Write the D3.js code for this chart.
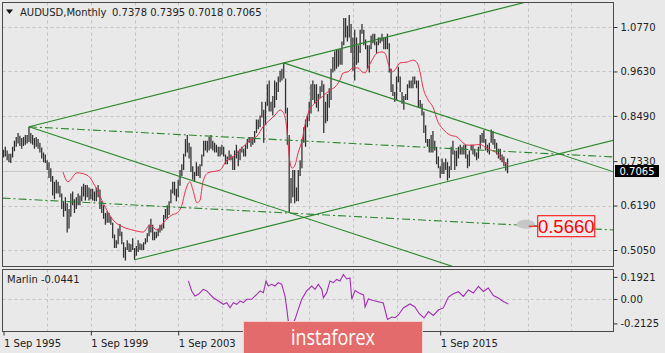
<!DOCTYPE html>
<html>
<head>
<meta charset="utf-8">
<script src="https://cdn.jsdelivr.net/npm/d3@7"></script>
<style>
  html, body { margin: 0; padding: 0; background: #e9e9e9; }
  svg { display: block; font-family: "DejaVu Sans", sans-serif; }
</style>
</head>
<body>
<svg id="chart"></svg>
<script>
// monthly bars, first bar = Sep 1995 (index 0)
const barHighs = [
  .762,.770,.760,.752,                                              // 1995 Sep-Dec
  .752,.770,.785,.795,.805,.798,.792,.795,.800,.800,.821,.805,      // 1996
  .800,.792,.795,.790,.780,.768,.755,.750,.735,.730,.715,.695,      // 1997
  .680,.685,.680,.670,.650,.630,.640,.625,.610,.650,.655,.635,      // 1998
  .640,.650,.645,.668,.675,.672,.672,.665,.662,.662,.655,.665,      // 1999
  .672,.660,.630,.620,.600,.605,.600,.590,.575,.545,.530,.560,      // 2000
  .572,.552,.525,.512,.530,.522,.520,.535,.510,.515,.530,.522,      // 2001
  .520,.525,.535,.548,.570,.585,.570,.552,.552,.560,.570,.570,      // 2002
  .595,.610,.620,.630,.660,.680,.680,.662,.685,.710,.725,.752,      // 2003
  .790,.800,.780,.770,.720,.705,.730,.720,.725,.750,.785,.785,      // 2004
  .785,.795,.800,.785,.780,.775,.770,.770,.775,.770,.750,.745,      // 2005
  .760,.750,.745,.760,.775,.760,.765,.770,.765,.775,.790,.795,      // 2006
  .795,.795,.810,.840,.840,.850,.885,.865,.885,.930,.940,.885,      // 2007
  .900,.940,.935,.950,.965,.970,.985,.945,.870,.800,.690,.710,      // 2008
  .710,.665,.710,.735,.790,.820,.840,.850,.885,.930,.940,.930,      // 2009
  .930,.905,.925,.940,.930,.885,.905,.920,.970,1.000,1.015,1.020,   // 2010
  1.020,1.020,1.040,1.100,1.100,1.080,1.108,1.085,1.050,1.070,1.050,1.030, // 2011
  1.070,1.085,1.070,1.045,1.030,1.030,1.055,1.060,1.060,1.040,1.050,1.050, // 2012
  1.060,1.050,1.050,1.060,1.035,.970,.930,.910,.950,.975,.950,.910, // 2013
  .900,.905,.930,.940,.940,.950,.950,.940,.940,.890,.880,.860,      // 2014
  .825,.790,.790,.800,.810,.785,.770,.745,.720,.740,.730,.740,      // 2015
  .730,.720,.770,.785,.760,.760,.770,.775,.770,.775,.775,.750,      // 2016
  .760,.775,.775,.765,.755,.770,.800,.805,.812,.790,.775,.780,      // 2017
  .814,.810,.790,.780,.765,.765,.750,.745,.730,.7395                // 2018 Jan-Oct
];
const barLows = [
  .742,.745,.735,.730,
  .728,.742,.758,.770,.778,.772,.765,.772,.775,.778,.782,.778,
  .775,.765,.770,.765,.755,.740,.730,.728,.710,.690,.680,.645,
  .635,.650,.650,.640,.610,.590,.605,.550,.560,.590,.620,.600,
  .610,.620,.620,.630,.642,.632,.640,.632,.635,.632,.630,.630,
  .640,.610,.600,.585,.570,.575,.575,.570,.535,.510,.510,.520,
  .540,.520,.485,.478,.505,.500,.500,.505,.480,.490,.500,.505,
  .505,.505,.520,.525,.540,.550,.530,.530,.535,.540,.550,.555,
  .560,.585,.585,.595,.625,.650,.645,.630,.640,.670,.695,.710,
  .745,.755,.740,.705,.685,.680,.695,.695,.690,.720,.745,.760,
  .755,.760,.765,.760,.755,.755,.745,.745,.750,.745,.725,.725,
  .735,.735,.710,.710,.740,.720,.735,.755,.745,.745,.765,.780,
  .770,.775,.780,.805,.815,.820,.845,.780,.825,.875,.860,.860,
  .850,.870,.890,.910,.935,.940,.945,.855,.775,.601,.625,.640,
  .625,.630,.630,.695,.715,.780,.770,.820,.835,.855,.890,.880,
  .870,.860,.895,.910,.805,.830,.835,.870,.890,.960,.965,.970,
  .975,.980,.980,1.030,1.050,1.040,1.050,1.010,.965,.940,.980,.985,
  1.010,1.060,1.030,1.020,.970,.960,1.020,1.035,1.030,1.010,1.030,1.035,
  1.040,1.020,1.020,1.020,.960,.910,.900,.885,.890,.935,.910,.880,
  .865,.890,.890,.920,.920,.920,.930,.920,.870,.870,.850,.805,
  .780,.770,.755,.755,.755,.760,.725,.715,.690,.700,.700,.710,
  .683,.690,.710,.750,.710,.720,.740,.750,.750,.750,.740,.715,
  .720,.760,.750,.745,.735,.740,.765,.780,.780,.760,.755,.750,
  .780,.775,.765,.750,.740,.735,.730,.720,.708,.7018
];

// red average, [month index, price]
const redLine = [
  [32.7,.705],[35.4,.680],[40.4,.703],[45.9,.697],[51.4,.659],[54.7,.626],[60.2,.582],
  [65.7,.564],[71.2,.556],[76.7,.551],[80.5,.569],[84.4,.556],[87.7,.574],[92.6,.595],
  [95.4,.600],[98.1,.621],[99.8,.654],[102.5,.680],[104.1,.659],[106.3,.626],[108,.633],
  [109.6,.680],[112.4,.703],[119,.710],[122.8,.736],[126.1,.744],[130,.762],[135.5,.787],
  [139.3,.797],[142.6,.821],[146.5,.839],[149.2,.851],[152,.864],[153.6,.859],[155.3,.831],
  [157.5,.728],[158.6,.715],[160.2,.723],[161.9,.754],[164.1,.787],[165.7,.826],[167.4,.856],
  [171.2,.882],[175.1,.898],[179.4,.915],[182.2,.923],[184.9,.941],[186.6,.959],[189.3,.962],
  [192.1,.972],[194.8,.972],[197,.962],[198.7,.959],[200.3,.972],[202.5,.992],[205.3,1.010],
  [208,1.013],[209.7,1.010],[211.3,.985],[213.5,.962],[215.2,.967],[217.9,.985],[221.8,.987],
  [225.1,.992],[227.3,.985],[228.9,.962],[230.5,.923],[233.3,.890],[236,.872],[238.8,.833],
  [241.5,.815],[245.4,.800],[249.2,.795],[252.5,.780],[254.7,.774],[258,.774],[261.9,.776],
  [264.6,.769],[267.4,.762],[270.1,.757],[272.9,.744],[275.6,.728],[277.3,.723]
];

// Marlin oscillator, [month index, value]
const marlin = [
  [101.6,.157],[103.4,.070],[105.2,.026],[107.1,.041],[109.8,.084],[111.7,.070],[113.5,.041],
  [115.3,.011],[118.1,-.017],[120.8,-.046],[122.7,-.032],[124.5,-.076],[126.3,-.032],[128.2,-.046],
  [130,-.017],[131.8,-.032],[133.7,-.003],[136.4,-.003],[139.2,.041],[141,.070],[142.8,.055],
  [144.3,.157],[145.5,.113],[147.4,.128],[149.2,.113],[151,.142],[152.9,.128],[154.7,.026],
  [155.7,-.090],[156.5,-.191],[158.4,-.235],[160.2,-.177],[162,-.090],[163.9,-.003],[166.6,.070],
  [169.4,.113],[171.2,.084],[173,.128],[174.9,.084],[175.8,.011],[177.6,.055],[179.4,.157],
  [181.3,.142],[183.1,.170],[184.9,.157],[186.8,.213],[188.6,.174],[190.4,.183],[191.4,.000],
  [193.2,.074],[195.4,.052],[197.9,.035],[198.7,-.070],[200.5,.000],[203.2,-.013],[208.7,-.035],
  [211,-.178],[213.4,-.157],[215.2,-.163],[217,-.139],[219.7,-.078],[223.4,-.043],[226.1,-.070],
  [228.4,-.126],[231.1,-.165],[233.5,-.110],[236.2,-.143],[239,-.096],[241.7,-.078],[244.5,.017],
  [247.2,.045],[250,.063],[252.7,.022],[255.5,.078],[258.2,.052],[261,.109],[263.7,.065],
  [266.4,.096],[269.2,.030],[271.9,.009],[274.7,-.022],[277.4,-.0441]
];

// drawn trend lines, each through two anchors [month index, price]
const trendLines = [
  [[14, .821], [154, .985]],
  [[14, .821], [157, .601]],
  [[154, .985], [335.5, .705]],
  [[72, .480], [335.5, .787]]
];
const levelLines = [
  [[14, .821], [335.5, .7436]],
  [[0, .638], [335.5, .5563]]
];
const markLevel = [287, .566];

const priceTicks = [1.0770, 0.9630, 0.8490, 0.7330, 0.6190, 0.5050];
const marlinTicks = [0.1921, 0.00, -0.2125];
const marlinTickLabels = ['0.1921', '0.00', '-0.2125'];
// 2007 and 2011 labels sit under the logo in the reference
const dateTicks = [0, 48, 96, 240];
const dateLabels = ['1 Sep 1995', '1 Sep 1999', '1 Sep 2003', '1 Sep 2015'];
const lastPrice = 0.7065;
const header = ['AUDUSD,Monthly', '0.7378 0.7395 0.7018 0.7065'];
const marlinLabel = 'Marlin -0.0441';

const width = 665;
const height = 353;
const pLeft = 2.5, pRight = 613.5, pTop = 2.5, pBottom = 266.5;
const subTop = 269.5, subBottom = 331.5;

const svg = d3.select('#chart').attr('width', width).attr('height', height);

const x = d3.scaleLinear().domain([0, 335.5]).range([3.5, 614]);
const y = d3.scaleLinear().domain([0.505, 1.077]).range([250, 27]);
const ySub = d3.scaleLinear().domain([-0.2125, 0.1921]).range([323.4, 276.9]);

const defs = svg.append('defs');
defs.append('clipPath').attr('id', 'clipMain').append('rect')
    .attr('x', pLeft).attr('y', pTop).attr('width', pRight - pLeft).attr('height', pBottom - pTop);
defs.append('clipPath').attr('id', 'clipSub').append('rect')
    .attr('x', pLeft).attr('y', subTop).attr('width', pRight - pLeft).attr('height', subBottom - subTop);

// grid
const grid = svg.append('g').attr('stroke', '#c4c4c4').attr('stroke-dasharray', '3,3');
grid.selectAll('.hg').data(priceTicks).enter().append('line')
    .attr('x1', pLeft).attr('x2', pRight)
    .attr('y1', d => Math.round(y(d)) + 0.5).attr('y2', d => Math.round(y(d)) + 0.5);
const vGrid = d3.range(24, 336, 24);
grid.selectAll('.vg').data(vGrid).enter().append('line')
    .attr('x1', d => Math.round(x(d)) + 0.5).attr('x2', d => Math.round(x(d)) + 0.5)
    .attr('y1', pTop).attr('y2', pBottom);
grid.selectAll('.vg2').data(vGrid).enter().append('line')
    .attr('x1', d => Math.round(x(d)) + 0.5).attr('x2', d => Math.round(x(d)) + 0.5)
    .attr('y1', subTop).attr('y2', subBottom);
grid.append('line')
    .attr('x1', pLeft).attr('x2', pRight)
    .attr('y1', Math.round(ySub(0)) + 0.5).attr('y2', Math.round(ySub(0)) + 0.5);

const main = svg.append('g').attr('clip-path', 'url(#clipMain)');

// bid line
main.append('line')
    .attr('x1', pLeft).attr('x2', pRight)
    .attr('y1', Math.round(y(lastPrice)) + 0.5).attr('y2', Math.round(y(lastPrice)) + 0.5)
    .attr('stroke', '#c8c8c8');

// bars
main.append('g').selectAll('line').data(barHighs).enter().append('line')
    .attr('x1', (d, i) => x(i)).attr('x2', (d, i) => x(i))
    .attr('y1', d => y(d)).attr('y2', (d, i) => y(barLows[i]))
    .attr('stroke', '#2e2e2e').attr('stroke-width', 1.25);

// red average
main.append('path').datum(redLine)
    .attr('fill', 'none').attr('stroke', '#e8304f').attr('stroke-width', 1)
    .attr('d', d3.line().x(d => x(d[0])).y(d => y(d[1])).curve(d3.curveMonotoneX));

function extend(a, b, end) {
    return a[1] + (b[1] - a[1]) * (end - a[0]) / (b[0] - a[0]);
}

main.selectAll('.trend').data(trendLines).enter().append('line')
    .attr('x1', d => x(d[0][0])).attr('y1', d => y(d[0][1]))
    .attr('x2', x(345))
    .attr('y2', d => y(extend(d[0], d[1], 345)))
    .attr('stroke', '#2b862b').attr('stroke-width', 1.1);

main.selectAll('.level').data(levelLines).enter().append('line')
    .attr('x1', d => d[0][0] === 0 ? pLeft : x(d[0][0])).attr('y1', d => y(d[0][1]))
    .attr('x2', d => x(d[1][0])).attr('y2', d => y(d[1][1]))
    .attr('stroke', '#2b862b').attr('stroke-width', 1.1)
    .attr('stroke-dasharray', '8,3,2,3');

// level mark
const mx = x(markLevel[0]);
const my = y(markLevel[1]);
main.append('ellipse')
    .attr('cx', mx).attr('cy', my - 2).attr('rx', 9).attr('ry', 4.5)
    .attr('fill', '#c6c6c6');
main.append('line')
    .attr('x1', mx + 3).attr('x2', mx + 12).attr('y1', my).attr('y2', my)
    .attr('stroke', '#ff0000');
main.append('rect')
    .attr('x', mx + 12).attr('y', my - 10.5).attr('width', 57).attr('height', 21)
    .attr('fill', '#ececec').attr('stroke', '#ff0000');
main.append('text')
    .attr('x', mx + 40.5).attr('y', my + 6.5)
    .attr('text-anchor', 'middle')
    .style('font-family', '"Liberation Sans", Arial, sans-serif')
    .style('font-size', '18.5px')
    .attr('fill', '#ff0000')
    .text(d3.format('.4f')(markLevel[1]));

// marlin panel
svg.append('g').attr('clip-path', 'url(#clipSub)')
    .append('path').datum(marlin)
    .attr('fill', 'none').attr('stroke', '#a12fb3').attr('stroke-width', 1.1)
    .attr('d', d3.line().x(d => x(d[0])).y(d => ySub(d[1])));

// panel borders
svg.append('rect').attr('x', pLeft).attr('y', pTop)
    .attr('width', pRight - pLeft).attr('height', pBottom - pTop)
    .attr('fill', 'none').attr('stroke', '#4a4a4a');
svg.append('rect').attr('x', pLeft).attr('y', subTop)
    .attr('width', pRight - pLeft).attr('height', subBottom - subTop)
    .attr('fill', 'none').attr('stroke', '#4a4a4a');

// axes
const yAxis = svg.append('g').attr('transform', `translate(${pRight},0)`)
    .call(d3.axisRight(y).tickValues(priceTicks).tickFormat(d3.format('.4f')).tickSize(4).tickPadding(3));
const subAxis = svg.append('g').attr('transform', `translate(${pRight},0)`)
    .call(d3.axisRight(ySub).tickValues(marlinTicks).tickFormat((d, i) => marlinTickLabels[i]).tickSize(4).tickPadding(3));
const xAxis = svg.append('g').attr('transform', `translate(0,${subBottom})`)
    .call(d3.axisBottom(x).tickValues(dateTicks).tickFormat((d, i) => dateLabels[i]).tickSize(4).tickPadding(2));

[yAxis, subAxis, xAxis].forEach(a => {
    a.select('.domain').remove();
    a.selectAll('line').attr('stroke', '#333');
    a.selectAll('text').attr('fill', '#222')
        .style('font-family', '"DejaVu Sans", sans-serif').style('font-size', '10px');
});
xAxis.selectAll('text').attr('text-anchor', 'start').attr('x', 0).attr('dy', '0.95em');

// last price tag
svg.append('rect')
    .attr('x', pRight + 1.5).attr('y', Math.round(y(lastPrice)) - 6)
    .attr('width', 44).attr('height', 12).attr('fill', '#000');
svg.append('text')
    .attr('x', pRight + 6).attr('y', Math.round(y(lastPrice)) + 4)
    .attr('fill', '#fff').style('font-size', '10px')
    .text(d3.format('.4f')(lastPrice));

// header
svg.append('polygon').attr('points', '6,9.5 13,9.5 9.5,14').attr('fill', '#111');
svg.append('text').attr('x', 20).attr('y', 16).attr('fill', '#222')
    .style('font-size', '10px').text(header[0]);
svg.append('text').attr('x', 112).attr('y', 16).attr('fill', '#222')
    .style('font-size', '10px').text(header[1]);

// marlin label
svg.append('text').attr('x', 7).attr('y', 283).attr('fill', '#222')
    .style('font-size', '10px').text(marlinLabel);

// logo
svg.append('rect').attr('x', 243.5).attr('y', 321.5).attr('width', 179).attr('height', 34)
    .attr('fill', '#e46b6b').attr('stroke', '#f3cfcf');
svg.append('text').attr('x', 333).attr('y', 345)
    .attr('text-anchor', 'middle').attr('fill', '#fff')
    .style('font-family', '"Open Sans", sans-serif').style('font-size', '21px')
    .attr('textLength', 84).attr('lengthAdjust', 'spacingAndGlyphs')
    .text('instaforex');
</script>
</body>
</html>
